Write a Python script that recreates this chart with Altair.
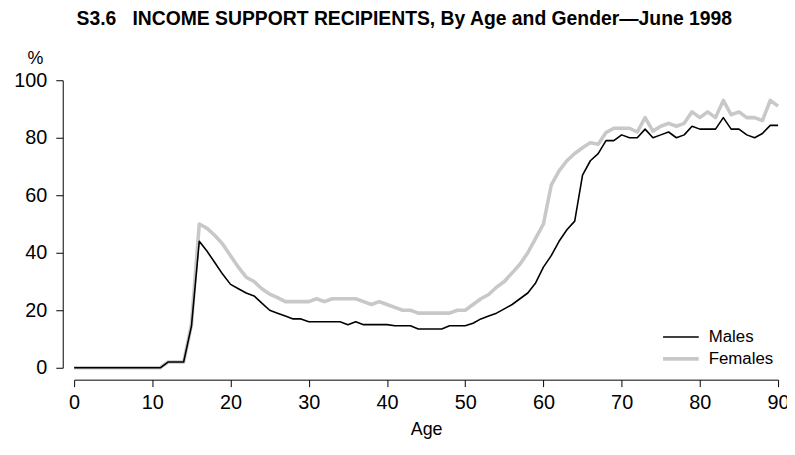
import altair as alt
import pandas as pd

ages = list(range(0, 91))
males = [0, 0, 0, 0, 0, 0, 0, 0, 0, 0, 0, 0, 2, 2, 2, 14.5, 44, 40.5, 36.5, 32.5,
         29, 27.5, 26, 25, 22.5, 20, 19, 18, 17, 17,
         16, 16, 16, 16, 16, 15, 16, 15, 15, 15,
         15, 14.6, 14.6, 14.6, 13.5, 13.5, 13.5, 13.5, 14.6, 14.6,
         14.6, 15.5, 17, 18, 19, 20.5, 22, 24, 26, 29.5,
         35, 39, 44, 48, 51, 67, 72, 74.5, 79, 79,
         81, 80, 80, 83, 80, 81, 82, 80, 81, 84,
         83, 83, 83, 87, 83, 83, 81, 80, 81.5, 84.3, 84.3]
females = [0, 0, 0, 0, 0, 0, 0, 0, 0, 0, 0, 0, 2, 2, 2, 15, 50, 48.5, 46, 43,
           39, 35, 31.5, 30, 27.5, 25.6, 24.4, 23, 23, 23,
           23, 24, 23, 24, 24, 24, 24, 23, 22, 23,
           22, 21, 20, 20, 19, 19, 19, 19, 19, 20,
           20, 22, 24, 25.5, 28, 30, 33, 36, 40, 45,
           50, 63.5, 68.5, 72, 74.5, 76.5, 78.3, 77.7, 81.8, 83.3,
           83.3, 83.3, 82, 87, 82.3, 84, 85, 84, 85, 89,
           87, 89, 87, 93, 88, 89, 87, 87, 86, 93, 91]
series_names = ["Males", "Females"]
series_colors = ["#000000", "#c8c8c8"]
series_widths = [1.6, 3.6]
x_ticks = list(range(0, 91, 10))
y_ticks = list(range(0, 101, 20))

rows = []
for a, m, f in zip(ages, males, females):
    rows.append({"Age": a, "value": m, "series": "Males"})
    rows.append({"Age": a, "value": f, "series": "Females"})
df = pd.DataFrame(rows)

FONT = "Liberation Sans"

x_enc = alt.X("Age:Q",
              scale=alt.Scale(domain=[0, 90], nice=False),
              axis=alt.Axis(values=x_ticks, title="Age", offset=12, tickSize=7,
                            labelPadding=6, titlePadding=8, grid=False,
                            labelFontSize=20, titleFontSize=18, titleFontWeight="normal",
                            labelFont=FONT, titleFont=FONT, labelColor="#000000",
                            titleColor="#000000", domainColor="#000000", tickColor="#000000",
                            labelFlush=False, labelOverlap=False))
y_enc = alt.Y("value:Q",
              scale=alt.Scale(domain=[0, 100], nice=False),
              axis=alt.Axis(values=y_ticks, title="%", offset=11.5, tickSize=7,
                            labelPadding=9, grid=False,
                            labelFontSize=20, titleFontSize=18, titleFontWeight="normal",
                            labelFont=FONT, titleFont=FONT, labelColor="#000000",
                            titleColor="#000000", domainColor="#000000", tickColor="#000000",
                            titleAngle=0, titleX=-28, titleY=-17, titleAlign="center",
                            titleBaseline="alphabetic", labelFlush=False))
legend = alt.Legend(title=None, orient="none", legendX=601, legendY=249,
                    symbolType="M-2,0H2", symbolSize=324,
                    labelFontSize=17, labelFont=FONT, labelColor="#000000",
                    labelOffset=17, rowPadding=3)
color_enc = alt.Color("series:N",
                      scale=alt.Scale(domain=series_names, range=series_colors),
                      legend=legend)
width_enc = alt.StrokeWidth("series:N",
                            scale=alt.Scale(domain=series_names, range=series_widths),
                            legend=legend)

base = alt.Chart(df).mark_line(strokeCap="butt", strokeJoin="round").encode(
    x=x_enc, y=y_enc, color=color_enc, strokeWidth=width_enc)

fem = base.transform_filter(alt.datum.series == "Females")
mal = base.transform_filter(alt.datum.series == "Males")

chart = alt.layer(fem, mal).properties(
    width=710, height=290,
    title=alt.TitleParams("S3.6\u00a0\u00a0\u00a0INCOME SUPPORT RECIPIENTS, By Age and Gender\u2014June 1998",
                          fontSize=19.5, fontWeight="bold", font=FONT, color="#000000",
                          anchor="middle", dx=-22, offset=20),
    autosize=alt.AutoSizeParams(type="none"),
    padding={"left": 66.7, "top": 71, "right": 9, "bottom": 72},
    background="#ffffff",
).configure_view(stroke=None)

chart.save("out.html", embed_options={"renderer": "svg", "actions": False})
